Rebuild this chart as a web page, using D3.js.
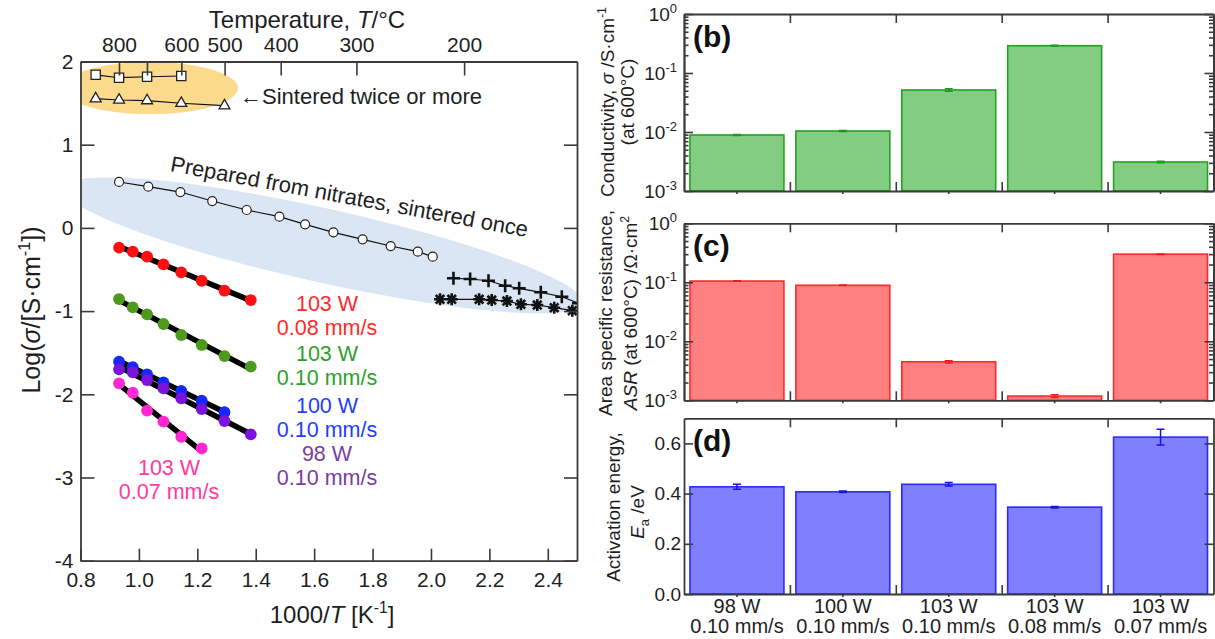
<!DOCTYPE html>
<html><head><meta charset="utf-8">
<script src="https://cdn.jsdelivr.net/npm/d3@7"></script>
<style>
body{margin:0;background:#fff}
svg{display:block}
text{font-family:"Liberation Sans",Arial,Helvetica,sans-serif}
</style>
</head><body>
<svg id="c" width="1215" height="639"></svg>
<script>
// ---------------- DATA (left panel) ----------------
const sqX  = [0.852, 0.932, 1.028, 1.145];
const sqY  = [1.840, 1.805, 1.817, 1.826];
const triX = [0.852, 0.932, 1.028, 1.145, 1.293];
const triY = [1.553, 1.537, 1.530, 1.498, 1.469];
const nitX = [0.932, 1.032, 1.142, 1.251, 1.369, 1.481, 1.569, 1.666, 1.766, 1.862, 1.955, 2.006];
const nitY = [0.552, 0.495, 0.431, 0.323, 0.215, 0.135, 0.043, -0.053, -0.137, -0.218, -0.286, -0.346];
const plusX = [2.077, 2.134, 2.197, 2.254, 2.302, 2.376, 2.448, 2.505];
const plusY = [-0.606, -0.614, -0.635, -0.695, -0.726, -0.774, -0.827, -0.906];
const starX = [2.031, 2.071, 2.165, 2.208, 2.260, 2.308, 2.364, 2.422, 2.484];
const starY = [-0.858, -0.858, -0.858, -0.867, -0.879, -0.918, -0.927, -0.959, -0.995];
const sprayX   = [0.932, 0.979, 1.028, 1.084, 1.145, 1.215, 1.293, 1.383];
const red08Y   = [-0.238, -0.286, -0.346, -0.438, -0.534, -0.635, -0.755, -0.867];
const green10Y = [-0.855, -0.955, -1.039, -1.155, -1.287, -1.407, -1.540, -1.668];
const blue100Y = [-1.608, -1.675, -1.760, -1.856, -1.960, -2.077, -2.216];
const purp98Y  = [-1.700, -1.736, -1.828, -1.928, -2.048, -2.177, -2.321, -2.481];
const pink07Y  = [-1.868, -1.981, -2.197, -2.329, -2.510, -2.649];
const xTicks = [0.8, 1.0, 1.2, 1.4, 1.6, 1.8, 2.0, 2.2, 2.4];
const xTickLabels = ["0.8","1.0","1.2","1.4","1.6","1.8","2.0","2.2","2.4"];
const yTicks = [2, 1, 0, -1, -2, -3, -4];
const yTickLabels = ["2","1","0","-1","-2","-3","-4"];
const tempTicks = [800, 700, 600, 500, 400, 300, 200];
const tempLabels = ["800", "", "600", "500", "400", "300", "200"];

// ---------------- DATA (right panels) ----------------
const powers = ["98 W", "100 W", "103 W", "103 W", "103 W"];
const speeds = ["0.10 mm/s", "0.10 mm/s", "0.10 mm/s", "0.08 mm/s", "0.07 mm/s"];
const conductivity = [0.0089, 0.0104, 0.0515, 0.29, 0.0031];
const condErr      = [0.0002, 0.0002, 0.0025, 0.004, 0.0001];
const asr    = [0.105, 0.089, 0.0045, 0.00118, 0.30];
const asrErr = [0.001, 0.001, 0.0002, 0.00006, 0.003];
const ea    = [0.427, 0.407, 0.437, 0.346, 0.625];
const eaErr = [0.010, 0.003, 0.007, 0.003, 0.031];
const logMajor = [1e-3, 1e-2, 1e-1, 1];
const linTicks = [0, 0.2, 0.4, 0.6];
const linTickLabels = ["0.0", "0.2", "0.4", "0.6"];

// ---------------- SETUP ----------------
const svg = d3.select("#c");
const AX = "#3a3a3a", TXT = "#1e1e1e";

function rich(parent, parts, o) {
  const t = parent.append("text")
    .attr("transform", `translate(${o.x},${o.y}) rotate(${o.rotate || 0})`)
    .attr("text-anchor", o.anchor || "middle")
    .attr("font-size", o.size).attr("fill", o.fill || TXT);
  if (o.weight) t.attr("font-weight", o.weight);
  let shift = 0;
  parts.forEach(p => {
    const ts = t.append("tspan").text(p.t);
    let target = 0, fs = o.size;
    if (p.sup) { target = -o.size * 0.42; fs = o.size * 0.65; }
    if (p.sub) { target = o.size * 0.25; fs = o.size * 0.68; }
    ts.attr("font-size", fs);
    if (target !== shift) { ts.attr("dy", target - shift); shift = target; }
    if (p.it) ts.attr("font-style", "italic");
  });
  return t;
}
function twoLine(parent, lines, o) {
  const t = parent.append("text").attr("transform", `translate(${o.x},${o.y})`)
    .attr("text-anchor", "middle").attr("font-size", o.size).attr("fill", o.fill || TXT);
  lines.forEach((s, i) => t.append("tspan").attr("x", 0).attr("dy", i === 0 ? 0 : o.gap).text(s));
  return t;
}
function styleAxis(g, fs) {
  g.select(".domain").attr("stroke", AX).attr("stroke-width", 1.8);
  g.selectAll(".tick line").attr("stroke", AX).attr("stroke-width", 1.6);
  g.selectAll(".tick text").attr("fill", TXT).attr("font-size", fs)
    .attr("font-family", '"Liberation Sans",Arial,sans-serif');
}

// ---------------- LEFT PANEL ----------------
const L = {x0: 80.5, x1: 577, y0: 61.5, y1: 560.7};
const x = d3.scaleLinear().domain([0.8, 2.5]).range([L.x0, L.x1]);
const y = d3.scaleLinear().domain([-4, 2]).range([L.y1, L.y0]);

svg.append("defs").append("clipPath").attr("id", "clipL")
  .append("rect").attr("x", L.x0).attr("y", L.y0)
  .attr("width", L.x1 - L.x0).attr("height", L.y1 - L.y0);

const bg = svg.append("g").attr("clip-path", "url(#clipL)");
bg.append("ellipse").attr("cx", x(1.038)).attr("cy", y(1.68)).attr("rx", 88).attr("ry", 26)
  .attr("fill", "#fcda8c");
bg.append("ellipse").attr("cx", 0).attr("cy", 0).attr("rx", 266).attr("ry", 37)
  .attr("transform", `translate(${x(1.63)},${y(-0.21)}) rotate(12.5)`)
  .attr("fill", "#dae6f4");

const plot = svg.append("g").attr("clip-path", "url(#clipL)");
const line = d3.line().x(d => x(d[0])).y(d => y(d[1]));
const zip = (a, b) => a.map((v, i) => [v, b[i]]);

[[sqX, sqY], [triX, triY], [nitX, nitY], [plusX, plusY], [starX, starY]].forEach(([a, b]) => {
  plot.append("path").datum(zip(a, b)).attr("d", line)
    .attr("fill", "none").attr("stroke", "#111").attr("stroke-width", 1.2);
});
plot.selectAll(".sq").data(zip(sqX, sqY)).join("path")
  .attr("d", d3.symbol(d3.symbolSquare, 85))
  .attr("transform", d => `translate(${x(d[0])},${y(d[1])})`)
  .attr("fill", "#fff").attr("stroke", "#222").attr("stroke-width", 1.3);
plot.selectAll(".tri").data(zip(triX, triY)).join("path")
  .attr("d", d3.symbol(d3.symbolTriangle, 52))
  .attr("transform", d => `translate(${x(d[0])},${y(d[1])})`)
  .attr("fill", "#fff").attr("stroke", "#222").attr("stroke-width", 1.3);
plot.selectAll(".nit").data(zip(nitX, nitY)).join("circle")
  .attr("cx", d => x(d[0])).attr("cy", d => y(d[1])).attr("r", 4.5)
  .attr("fill", "#fff").attr("stroke", "#222").attr("stroke-width", 1.2);
plot.selectAll(".plus").data(zip(plusX, plusY)).join("path")
  .attr("d", "M-6.5,0H6.5M0,-6.5V6.5")
  .attr("transform", d => `translate(${x(d[0])},${y(d[1])})`)
  .attr("stroke", "#111").attr("stroke-width", 2.6);
plot.selectAll(".star").data(zip(starX, starY)).join("path")
  .attr("d", "M-6,0H6M0,-6V6M-4.3,-4.3L4.3,4.3M-4.3,4.3L4.3,-4.3")
  .attr("transform", d => `translate(${x(d[0])},${y(d[1])})`)
  .attr("stroke", "#111").attr("stroke-width", 2.6);

const sprayed = [
  {ys: red08Y,   c: "#ff1010"},
  {ys: green10Y, c: "#4e9a1c"},
  {ys: blue100Y, c: "#1428ff"},
  {ys: purp98Y,  c: "#7a14dc"},
  {ys: pink07Y,  c: "#ff28d2"}
];
sprayed.forEach(s => {
  const pts = zip(sprayX.slice(0, s.ys.length), s.ys);
  const mx = d3.mean(pts, p => p[0]), my = d3.mean(pts, p => p[1]);
  const slope = d3.sum(pts, p => (p[0] - mx) * (p[1] - my)) / d3.sum(pts, p => (p[0] - mx) ** 2);
  const xa = pts[0][0], xb = pts[pts.length - 1][0];
  plot.append("path").datum([[xa, my + slope * (xa - mx)], [xb, my + slope * (xb - mx)]])
    .attr("d", line).attr("stroke", "#000").attr("stroke-width", 5.5).attr("stroke-linecap", "round");
});
sprayed.forEach(s => {
  const pts = zip(sprayX.slice(0, s.ys.length), s.ys);
  plot.append("g").selectAll("circle").data(pts).join("circle")
    .attr("cx", d => x(d[0])).attr("cy", d => y(d[1])).attr("r", 5.9).attr("fill", s.c);
});

const gB = svg.append("g").attr("transform", `translate(0,${L.y1})`)
  .call(d3.axisBottom(x).tickValues(xTicks).tickFormat((d, i) => xTickLabels[i])
    .tickSize(-12).tickSizeOuter(0).tickPadding(11));
styleAxis(gB, 21);
const gLft = svg.append("g").attr("transform", `translate(${L.x0},0)`)
  .call(d3.axisLeft(y).tickValues(yTicks).tickFormat((d, i) => yTickLabels[i])
    .tickSize(-14).tickSizeOuter(0).tickPadding(7));
styleAxis(gLft, 21);
const gR = svg.append("g").attr("transform", `translate(${L.x1},0)`)
  .call(d3.axisRight(y).tickValues(yTicks).tickFormat("").tickSize(-13).tickSizeOuter(0));
styleAxis(gR, 21);
const gT = svg.append("g").attr("transform", `translate(0,${L.y0})`)
  .call(d3.axisTop(x).tickValues(tempTicks.map(T => 1000 / (T + 273.15)))
    .tickFormat((d, i) => tempLabels[i]).tickSize(-14).tickSizeOuter(0).tickPadding(10));
styleAxis(gT, 21);

rich(svg, [{t: "Temperature, "}, {t: "T", it: true}, {t: "/°C"}], {x: 307, y: 28, size: 24});
rich(svg, [{t: "1000/"}, {t: "T", it: true}, {t: " [K"}, {t: "-1", sup: true}, {t: "]"}], {x: 332, y: 623, size: 24});
rich(svg, [{t: "Log("}, {t: "σ", it: true}, {t: "/[S·cm"}, {t: "-1", sup: true}, {t: "])"}],
  {x: 40, y: 310, size: 25, rotate: -90});
rich(svg, [{t: "←Sintered twice or more"}], {x: 240, y: 104, size: 22, anchor: "start"});
rich(svg, [{t: "Prepared from nitrates, sintered once"}], {x: 348, y: 204, size: 22, rotate: 10.5});

const labels = [
  {t: ["103 W", "0.08 mm/s"], c: "#ff2a2a", x: 327, y: 311},
  {t: ["103 W", "0.10 mm/s"], c: "#2ea02c", x: 327, y: 361},
  {t: ["100 W", "0.10 mm/s"], c: "#1f3dff", x: 327, y: 413},
  {t: ["98 W",  "0.10 mm/s"], c: "#7a3d9e", x: 327, y: 461},
  {t: ["103 W", "0.07 mm/s"], c: "#ff3a9e", x: 169, y: 475}
];
labels.forEach(l => twoLine(svg, l.t, {x: l.x, y: l.y, size: 21.5, gap: 24, fill: l.c}));

// ---------------- RIGHT PANELS ----------------
const RX0 = 684, RX1 = 1213.5;
const band = d3.scaleBand().domain(d3.range(5)).range([RX0, RX1]).paddingInner(0.113).paddingOuter(0.0565);
const bnd = d3.scaleLinear().domain([0, 5]).range([RX0, RX1]);
const minor = [];
[1e-3, 1e-2, 1e-1].forEach(k => { for (let m = 2; m <= 9; m++) minor.push(m * k); });

function supLabels(g) {
  g.selectAll(".tick text").each(function(d) {
    const e = Math.round(Math.log10(d));
    const t = d3.select(this).text("");
    t.append("tspan").text("10");
    t.append("tspan").text(e === 0 ? "0" : "-" + Math.abs(e)).attr("font-size", 13).attr("dy", -8);
  });
}

function panel(cfg) {
  const ys = cfg.scale;
  const g = svg.append("g");
  g.selectAll("rect").data(cfg.values).join("rect")
    .attr("x", (d, i) => band(i)).attr("width", band.bandwidth())
    .attr("y", d => ys(d)).attr("height", d => cfg.bottom - ys(d))
    .attr("fill", cfg.fill).attr("stroke", cfg.stroke).attr("stroke-width", 1.6);
  cfg.values.forEach((v, i) => {
    const cx = band(i) + band.bandwidth() / 2, e = cfg.err[i];
    const ya = ys(v + e), yb = ys(Math.max(v - e, 1e-9));
    g.append("path").attr("d", `M${cx},${ya}V${yb}M${cx - 4},${ya}H${cx + 4}M${cx - 4},${yb}H${cx + 4}`)
      .attr("stroke", cfg.err_c).attr("stroke-width", 1.5).attr("fill", "none");
  });
  if (cfg.log) {
    const gl = g.append("g").attr("transform", `translate(${RX0},0)`)
      .call(d3.axisLeft(ys).tickValues(logMajor).tickSize(-9).tickSizeOuter(0).tickPadding(7));
    styleAxis(gl, 19); supLabels(gl);
    const glm = g.append("g").attr("transform", `translate(${RX0},0)`)
      .call(d3.axisLeft(ys).tickValues(minor).tickFormat("").tickSize(-4.5).tickSizeOuter(0));
    styleAxis(glm, 19);
    const gr = g.append("g").attr("transform", `translate(${RX1},0)`)
      .call(d3.axisRight(ys).tickValues(logMajor).tickFormat("").tickSize(-9).tickSizeOuter(0));
    styleAxis(gr, 19);
    const grm = g.append("g").attr("transform", `translate(${RX1},0)`)
      .call(d3.axisRight(ys).tickValues(minor).tickFormat("").tickSize(-4.5).tickSizeOuter(0));
    styleAxis(grm, 19);
  } else {
    const gl = g.append("g").attr("transform", `translate(${RX0},0)`)
      .call(d3.axisLeft(ys).tickValues(linTicks).tickFormat((d, i) => linTickLabels[i])
        .tickSize(-9).tickSizeOuter(0).tickPadding(3));
    styleAxis(gl, 19);
    const gr = g.append("g").attr("transform", `translate(${RX1},0)`)
      .call(d3.axisRight(ys).tickValues(linTicks.slice(1)).tickFormat("").tickSize(-9).tickSizeOuter(0));
    styleAxis(gr, 19);
  }
  const gt = g.append("g").attr("transform", `translate(0,${cfg.top})`)
    .call(d3.axisTop(bnd).tickValues([1, 2, 3, 4]).tickFormat("").tickSize(-9).tickSizeOuter(0));
  styleAxis(gt, 19);
  const gb = g.append("g").attr("transform", `translate(0,${cfg.bottom})`)
    .call(d3.axisBottom(bnd).tickValues([1, 2, 3, 4]).tickFormat("").tickSize(-9).tickSizeOuter(0));
  styleAxis(gb, 19);
  const gc = g.append("g").attr("transform", `translate(0,${cfg.bottom})`)
    .call(d3.axisBottom(band).tickFormat("").tickSize(3).tickSizeOuter(0));
  styleAxis(gc, 19);
  gc.select(".domain").remove();
  rich(g, [{t: cfg.letter}], {x: 693, y: cfg.top + 33, size: 30, anchor: "start", weight: "bold", fill: "#111"});
  cfg.titles.forEach(tt => rich(g, tt.parts, {x: tt.x, y: tt.y, size: 19, rotate: -90}));
  return g;
}

panel({
  scale: d3.scaleLog().domain([1e-3, 1]).range([191, 14]), log: true, top: 14, bottom: 191,
  values: conductivity, err: condErr, fill: "#82cd82", stroke: "#22a322", err_c: "#1f9a1f", letter: "(b)",
  titles: [
    {parts: [{t: "Conductivity, "}, {t: "σ", it: true}, {t: " /S·cm"}, {t: "-1", sup: true}], x: 614, y: 102},
    {parts: [{t: "(at 600°C)"}], x: 634, y: 102}
  ]
});
panel({
  scale: d3.scaleLog().domain([1e-3, 1]).range([400.3, 223.3]), log: true, top: 223.3, bottom: 400.3,
  values: asr, err: asrErr, fill: "#ff8080", stroke: "#ff2a2a", err_c: "#f01c1c", letter: "(c)",
  titles: [
    {parts: [{t: "Area specific resistance,"}], x: 612, y: 313},
    {parts: [{t: "ASR", it: true}, {t: " (at 600°C) /Ω·cm"}, {t: "2", sup: true}], x: 637, y: 313}
  ]
});
const gd = panel({
  scale: d3.scaleLinear().domain([0, 0.7]).range([594, 418.3]), log: false, top: 418.3, bottom: 594,
  values: ea, err: eaErr, fill: "#8080ff", stroke: "#2a2aff", err_c: "#1414e0", letter: "(d)",
  titles: [
    {parts: [{t: "Activation energy,"}], x: 620, y: 507},
    {parts: [{t: "E", it: true}, {t: "a", sub: true}, {t: " /eV"}], x: 644, y: 512}
  ]
});
powers.forEach((p, i) => {
  const cx = band(i) + band.bandwidth() / 2;
  twoLine(gd, [p, speeds[i]], {x: cx, y: 613, size: 20, gap: 20});
});
</script>
</body></html>
